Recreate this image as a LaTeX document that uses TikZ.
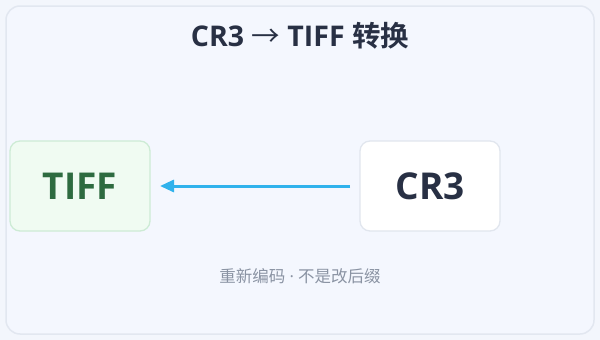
\documentclass[tikz,border=0pt]{standalone}
\usepackage{fontspec}
\setmainfont{Open Sans}[BoldFont={Open Sans Bold}]
\newfontfamily\cjk{Noto Sans CJK SC}[BoldFont={Noto Sans CJK SC Bold}]
\usetikzlibrary{arrows.meta}
\definecolor{pagebg}{HTML}{F3F6FC}
\definecolor{panelbg}{HTML}{F4F7FE}
\definecolor{panelline}{HTML}{E2E7F0}
\definecolor{titlecol}{HTML}{283044}
\definecolor{tiffbg}{HTML}{F0FBF2}
\definecolor{tiffline}{HTML}{CDEBD5}
\definecolor{tifftext}{HTML}{2E6B40}
\definecolor{crline}{HTML}{E1E6EE}
\definecolor{arrowcol}{HTML}{30B2EC}
\definecolor{notecol}{HTML}{8A93A3}
\tikzset{
  fmtbox/.style={rounded corners=10pt, line width=1.3pt, minimum width=140pt, minimum height=90pt, inner sep=0pt, font=\fontsize{37}{40}\selectfont\bfseries},
  conv/.style={line width=3pt, color=arrowcol, -{Triangle[length=14pt,width=12pt]}}
}
\begin{document}
\begin{tikzpicture}[x=1pt,y=-1pt]
\useasboundingbox (0,0) rectangle (600,340);
\fill[pagebg] (0,0) rectangle (600,340);
\draw[fill=panelbg, draw=panelline, line width=1.5pt, rounded corners=14pt] (6,6) rectangle (594,334);
\node[font=\fontsize{28.5}{32}\selectfont\bfseries, text=titlecol] (title) at (300,36) {CR3 {\cjk\mdseries →} TIFF {\cjk 转换}};
\node[fmtbox, fill=tiffbg, draw=tiffline, text=tifftext] (tiff) at (80,186) {TIFF};
\node[fmtbox, fill=white, draw=crline, text=titlecol] (cr3) at (430,186) {CR3};
\coordinate (astart) at (350,186);
\coordinate (aend) at (160,186);
\draw[conv] (astart) -- (aend);
\node[font=\fontsize{16.5}{20}\selectfont, text=notecol] (note) at (300,276) {{\cjk 重新编码} · {\cjk 不是改后缀}};
\end{tikzpicture}
\end{document}
